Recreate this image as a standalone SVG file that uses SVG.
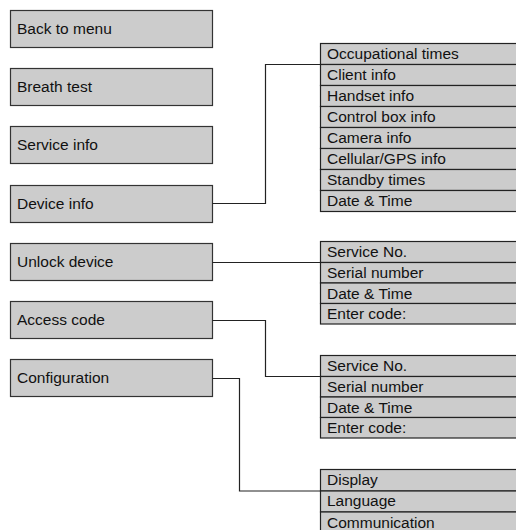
<svg xmlns="http://www.w3.org/2000/svg" width="516" height="530" viewBox="0 0 516 530">
<style>
.box{fill:#cccccc;stroke:#333333;stroke-width:1.2}
.row{fill:#cccccc;stroke:#222222;stroke-width:1.2}
.t{font-family:"Liberation Sans",Arial,sans-serif;font-size:15.5px;fill:#111111}
.c{fill:none;stroke:#222222;stroke-width:1.2}
</style>
<rect width="516" height="530" fill="#ffffff"/>
<g id="back-to-menu"><rect class="box" x="10.5" y="10.5" width="202" height="37"/><text class="t" x="17" y="34">Back to menu</text></g>
<g id="breath-test"><rect class="box" x="10.5" y="68.5" width="202" height="37"/><text class="t" x="17" y="92">Breath test</text></g>
<g id="service-info"><rect class="box" x="10.5" y="126.5" width="202" height="37"/><text class="t" x="17" y="150">Service info</text></g>
<g id="device-info"><rect class="box" x="10.5" y="185.5" width="202" height="37"/><text class="t" x="17" y="209">Device info</text></g>
<g id="unlock-device"><rect class="box" x="10.5" y="243.5" width="202" height="37"/><text class="t" x="17" y="267">Unlock device</text></g>
<g id="access-code"><rect class="box" x="10.5" y="301.5" width="202" height="37"/><text class="t" x="17" y="325">Access code</text></g>
<g id="configuration"><rect class="box" x="10.5" y="359.5" width="202" height="37"/><text class="t" x="17" y="383">Configuration</text></g>

<g id="device-info-list">
<rect class="row" x="320.5" y="43.5" width="200" height="21"/><text class="t" x="327" y="59">Occupational times</text>
<rect class="row" x="320.5" y="64.5" width="200" height="21"/><text class="t" x="327" y="80">Client info</text>
<rect class="row" x="320.5" y="85.5" width="200" height="21"/><text class="t" x="327" y="101">Handset info</text>
<rect class="row" x="320.5" y="106.5" width="200" height="21"/><text class="t" x="327" y="122">Control box info</text>
<rect class="row" x="320.5" y="127.5" width="200" height="21"/><text class="t" x="327" y="143">Camera info</text>
<rect class="row" x="320.5" y="148.5" width="200" height="21"/><text class="t" x="327" y="164">Cellular/GPS info</text>
<rect class="row" x="320.5" y="169.5" width="200" height="21"/><text class="t" x="327" y="185">Standby times</text>
<rect class="row" x="320.5" y="190.5" width="200" height="21"/><text class="t" x="327" y="206">Date &amp; Time</text>
</g>

<g id="unlock-list">
<rect class="row" x="320.5" y="241.5" width="200" height="21"/><text class="t" x="327" y="257">Service No.</text>
<rect class="row" x="320.5" y="262.5" width="200" height="20.5"/><text class="t" x="327" y="278">Serial number</text>
<rect class="row" x="320.5" y="283" width="200" height="20.5"/><text class="t" x="327" y="298.5">Date &amp; Time</text>
<rect class="row" x="320.5" y="303.5" width="200" height="20.5"/><text class="t" x="327" y="319">Enter code:</text>
</g>

<g id="access-list">
<rect class="row" x="320.5" y="355.5" width="200" height="21"/><text class="t" x="327" y="371">Service No.</text>
<rect class="row" x="320.5" y="376.5" width="200" height="20.5"/><text class="t" x="327" y="392">Serial number</text>
<rect class="row" x="320.5" y="397" width="200" height="20.5"/><text class="t" x="327" y="412.5">Date &amp; Time</text>
<rect class="row" x="320.5" y="417.5" width="200" height="20.5"/><text class="t" x="327" y="433">Enter code:</text>
</g>

<g id="configuration-list">
<rect class="row" x="320.5" y="469.5" width="200" height="21.5"/><text class="t" x="327" y="485">Display</text>
<rect class="row" x="320.5" y="491" width="200" height="21"/><text class="t" x="327" y="506">Language</text>
<rect class="row" x="320.5" y="512" width="200" height="22"/><text class="t" x="327" y="528">Communication</text>
</g>

<g id="connectors">
<path class="c" d="M212.5 203.5 H265.5 V64.5 H320.5"/>
<path class="c" d="M212.5 262.5 H320.5"/>
<path class="c" d="M212.5 320.5 H265.5 V376.5 H320.5"/>
<path class="c" d="M212.5 378.5 H239.5 V491 H320.5"/>
</g>
</svg>
